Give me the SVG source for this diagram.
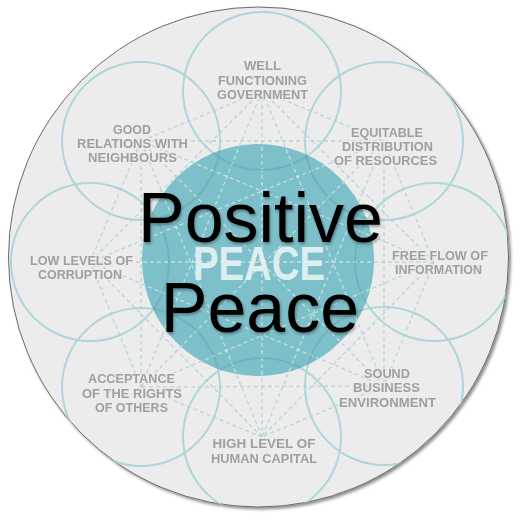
<svg xmlns="http://www.w3.org/2000/svg" xmlns:xlink="http://www.w3.org/1999/xlink" width="521" height="522" viewBox="0 0 521 522">
<style>
.ring{fill:none;stroke:#aed5da;stroke-width:2}
.arc{fill:none;stroke:#5a9ea9;stroke-opacity:0.4;stroke-width:2}
.lbl{font-family:"Liberation Sans",Arial,sans-serif;font-weight:bold;font-size:13px;fill:#9f9f9f;text-anchor:middle;stroke:#ececec;stroke-width:2.5;paint-order:stroke;stroke-linejoin:round}
.title{font-family:"Liberation Sans",Arial,Helvetica,sans-serif;font-size:70px;fill:#000;text-anchor:middle}
.peace{font-family:"Liberation Sans",Arial,sans-serif;font-weight:bold;font-size:48px;fill:#eef7f8;fill-opacity:0.85;text-anchor:middle}
</style>
<defs>
<clipPath id="outerClip"><circle cx="258.5" cy="257" r="250"/></clipPath>
<clipPath id="tealClip"><circle cx="258" cy="260" r="116"/></clipPath>
<filter id="shadow" x="-10%" y="-10%" width="120%" height="120%"><feDropShadow dx="2" dy="2" stdDeviation="1.5" flood-color="#000" flood-opacity="0.45"/></filter>
<filter id="soft" x="-10%" y="-30%" width="120%" height="160%"><feGaussianBlur stdDeviation="0.45"/></filter>
<filter id="tshadow" x="-10%" y="-20%" width="120%" height="140%"><feDropShadow dx="1" dy="2" stdDeviation="1.5" flood-color="#000" flood-opacity="0.35"/></filter>
</defs>
<rect width="521" height="522" fill="#fff"/>
<circle id="disc" cx="258.5" cy="257" r="250" fill="#ececec" stroke="#6a6a6a" stroke-width="1" filter="url(#shadow)"/>
<g clip-path="url(#outerClip)">
<g id="connectors" fill="none" stroke="#b8d5da" stroke-width="1.3" stroke-dasharray="4 3">
<g id="links">
<line x1="262" y1="91" x2="384" y2="141"/><line x1="262" y1="91" x2="434" y2="262"/><line x1="262" y1="91" x2="384" y2="386"/><line x1="262" y1="91" x2="262" y2="437"/><line x1="262" y1="91" x2="141" y2="387"/><line x1="262" y1="91" x2="90" y2="262"/><line x1="262" y1="91" x2="141" y2="141"/>
<line x1="384" y1="141" x2="434" y2="262"/><line x1="384" y1="141" x2="384" y2="386"/><line x1="384" y1="141" x2="262" y2="437"/><line x1="384" y1="141" x2="141" y2="387"/><line x1="384" y1="141" x2="90" y2="262"/><line x1="384" y1="141" x2="141" y2="141"/>
<line x1="434" y1="262" x2="384" y2="386"/><line x1="434" y1="262" x2="262" y2="437"/><line x1="434" y1="262" x2="141" y2="387"/><line x1="434" y1="262" x2="90" y2="262"/><line x1="434" y1="262" x2="141" y2="141"/>
<line x1="384" y1="386" x2="262" y2="437"/><line x1="384" y1="386" x2="141" y2="387"/><line x1="384" y1="386" x2="90" y2="262"/><line x1="384" y1="386" x2="141" y2="141"/>
<line x1="262" y1="437" x2="141" y2="387"/><line x1="262" y1="437" x2="90" y2="262"/><line x1="262" y1="437" x2="141" y2="141"/>
<line x1="141" y1="387" x2="90" y2="262"/><line x1="141" y1="387" x2="141" y2="141"/>
<line x1="90" y1="262" x2="141" y2="141"/>
</g>
</g>
<g id="node-government"><circle class="ring" cx="262" cy="91" r="79"/>
<g filter="url(#soft)"><text class="lbl" x="262.5" y="70" textLength="37" lengthAdjust="spacingAndGlyphs">WELL</text><text class="lbl" x="262.5" y="84.5" textLength="89" lengthAdjust="spacingAndGlyphs">FUNCTIONING</text><text class="lbl" x="262.5" y="98.5" textLength="91" lengthAdjust="spacingAndGlyphs">GOVERNMENT</text></g></g>
<g id="node-resources"><circle class="ring" cx="384" cy="141" r="79"/>
<g filter="url(#soft)"><text class="lbl" x="387" y="137" textLength="72" lengthAdjust="spacingAndGlyphs">EQUITABLE</text><text class="lbl" x="387.5" y="151" textLength="91" lengthAdjust="spacingAndGlyphs">DISTRIBUTION</text><text class="lbl" x="385.5" y="165" textLength="103" lengthAdjust="spacingAndGlyphs">OF RESOURCES</text></g></g>
<g id="node-information"><circle class="ring" cx="434" cy="262" r="79"/>
<g filter="url(#soft)"><text class="lbl" x="440" y="260" textLength="96" lengthAdjust="spacingAndGlyphs">FREE FLOW OF</text><text class="lbl" x="438.5" y="274" textLength="87" lengthAdjust="spacingAndGlyphs">INFORMATION</text></g></g>
<g id="node-business"><circle class="ring" cx="384" cy="386" r="79"/>
<g filter="url(#soft)"><text class="lbl" x="387" y="378" textLength="46" lengthAdjust="spacingAndGlyphs">SOUND</text><text class="lbl" x="386.5" y="392" textLength="67" lengthAdjust="spacingAndGlyphs">BUSINESS</text><text class="lbl" x="387.5" y="406.5" textLength="97" lengthAdjust="spacingAndGlyphs">ENVIRONMENT</text></g></g>
<g id="node-human-capital"><circle class="ring" cx="262" cy="437" r="79"/>
<g filter="url(#soft)"><text class="lbl" x="264" y="448" textLength="103" lengthAdjust="spacingAndGlyphs">HIGH LEVEL OF</text><text class="lbl" x="264" y="462.5" textLength="106" lengthAdjust="spacingAndGlyphs">HUMAN CAPITAL</text></g></g>
<g id="node-rights"><circle class="ring" cx="141" cy="387" r="79"/>
<g filter="url(#soft)"><text class="lbl" x="131.5" y="383" textLength="87" lengthAdjust="spacingAndGlyphs">ACCEPTANCE</text><text class="lbl" x="132" y="397.5" textLength="100" lengthAdjust="spacingAndGlyphs">OF THE RIGHTS</text><text class="lbl" x="131.5" y="411.5" textLength="73" lengthAdjust="spacingAndGlyphs">OF OTHERS</text></g></g>
<g id="node-corruption"><circle class="ring" cx="90" cy="262" r="79"/>
<g filter="url(#soft)"><text class="lbl" x="81.5" y="264.5" textLength="103" lengthAdjust="spacingAndGlyphs">LOW LEVELS OF</text><text class="lbl" x="80" y="278.5" textLength="84" lengthAdjust="spacingAndGlyphs">CORRUPTION</text></g></g>
<g id="node-neighbours"><circle class="ring" cx="141" cy="141" r="79"/>
<g filter="url(#soft)"><text class="lbl" x="132" y="133.5" textLength="38" lengthAdjust="spacingAndGlyphs">GOOD</text><text class="lbl" x="132.5" y="147.5" textLength="111" lengthAdjust="spacingAndGlyphs">RELATIONS WITH</text><text class="lbl" x="132.5" y="162" textLength="89" lengthAdjust="spacingAndGlyphs">NEIGHBOURS</text></g></g>
<g id="node-peace">
<circle cx="258" cy="260" r="116" fill="#7ec0ca"/>
<g clip-path="url(#tealClip)">
<use xlink:href="#links" href="#links" fill="none" stroke="#ffffff" stroke-opacity="0.5" stroke-width="1.3" stroke-dasharray="4 3"/>
<circle class="arc" cx="262" cy="91" r="79"/><circle class="arc" cx="384" cy="141" r="79"/><circle class="arc" cx="434" cy="262" r="79"/><circle class="arc" cx="384" cy="386" r="79"/><circle class="arc" cx="262" cy="437" r="79"/><circle class="arc" cx="141" cy="387" r="79"/><circle class="arc" cx="90" cy="262" r="79"/><circle class="arc" cx="141" cy="141" r="79"/>
</g>
<text class="peace" x="259" y="280" textLength="132" lengthAdjust="spacingAndGlyphs">PEACE</text>
</g>
</g>
<g id="title" filter="url(#tshadow)">
<text class="title" x="260.5" y="242">Positive</text>
<text class="title" x="260" y="332">Peace</text>
</g>
</svg>
